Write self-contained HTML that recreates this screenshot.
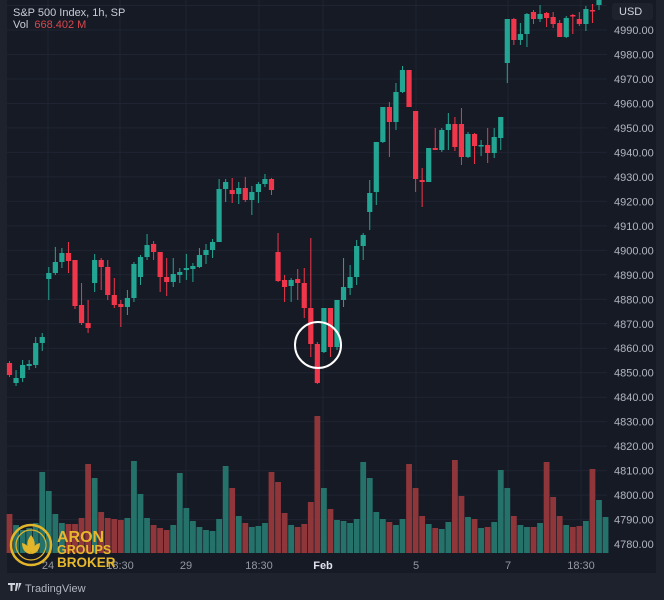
<!DOCTYPE html>
<html><head><meta charset="utf-8">
<style>
html,body{margin:0;padding:0;background:#1e222d;}
body{width:664px;height:600px;overflow:hidden;position:relative;font-family:"Liberation Sans",sans-serif;}
svg{position:absolute;left:0;top:0;}
</style></head>
<body>
<svg id="c" width="664" height="600" viewBox="0 0 664 600" xmlns="http://www.w3.org/2000/svg">
<rect x="0" y="0" width="664" height="600" fill="#1e222d"/>
<rect x="7" y="0" width="649" height="573" fill="#161a25"/>
<g id="grid" stroke="#1f2432" stroke-width="1"></g>
<g id="vol"></g>
<g id="cand"></g>
<g font-family="Liberation Sans, sans-serif" font-size="11" fill="#b2b5be" id="plabels"></g>
<rect x="612" y="3" width="41" height="17" rx="3" fill="#1e222d"/>
<text x="619" y="15" font-size="11" fill="#d1d4dc" font-family="Liberation Sans, sans-serif">USD</text>
<text x="13" y="16" font-size="11" fill="#c9ccd4" font-family="Liberation Sans, sans-serif">S&amp;P 500 Index, 1h, SP</text>
<text x="13" y="28" font-size="11" fill="#c9ccd4" font-family="Liberation Sans, sans-serif">Vol <tspan fill="#d9474d" dx="3">668.402 M</tspan></text>
<g font-family="Liberation Sans, sans-serif" font-size="11" fill="#9598a1" text-anchor="middle">
<text x="48" y="569">24</text>
<text x="120" y="569">18:30</text>
<text x="186" y="569">29</text>
<text x="259" y="569">18:30</text>
<text x="323" y="569" fill="#e0e3eb" font-weight="bold">Feb</text>
<text x="416" y="569">5</text>
<text x="508" y="569">7</text>
<text x="581" y="569">18:30</text>
</g>
<circle cx="318" cy="345" r="23" fill="none" stroke="#ffffff" stroke-width="2"/>
<circle cx="31" cy="545" r="20" fill="none" stroke="#e2b52a" stroke-width="2.5"/>
<circle cx="31" cy="545" r="15" fill="none" stroke="#e2b52a" stroke-width="1.2"/>
<path d="M31 535 C26 541 26 548 31 553 C36 548 36 541 31 535Z" fill="#e2b52a"/>
<path d="M22 543 C22 550 26 554 31 554 C30 548 27 544 22 543Z" fill="#e2b52a"/>
<path d="M40 543 C40 550 36 554 31 554 C32 548 35 544 40 543Z" fill="#e2b52a"/>
<g font-family="Liberation Sans, sans-serif" font-weight="bold" fill="#e8b82c">
<text x="57" y="542" font-size="16">ARON</text>
<text x="57" y="554" font-size="12.5">GROUPS</text>
<text x="57" y="567" font-size="13.5">BROKER</text>
</g>
<path d="M8 583h7v2h-2.5v6h-2v-6H8z M16 583h2.5l-2 8h-1.5z M19 583h2.5l-3.5 8z" fill="#d1d4dc"/>
<text x="25" y="592" font-size="11" fill="#b2b5be" font-family="Liberation Sans, sans-serif">TradingView</text>
</svg>
<script>
var NS="http://www.w3.org/2000/svg";
function el(p,t,a){var e=document.createElementNS(NS,t);for(var k in a)e.setAttribute(k,a[k]);p.appendChild(e);return e;}
var grid=document.getElementById('grid');
for(var i=0;i<=21;i++){var y=30+i*24.48;el(grid,'line',{x1:7,x2:607,y1:y,y2:y});}
el(grid,'line',{x1:7,x2:607,y1:5.5,y2:5.5});
[48,120,186,259,323,416,508,581].forEach(function(x){el(grid,'line',{x1:x,x2:x,y1:0,y2:553});});
var pl=document.getElementById('plabels');
for(var i=0;i<=21;i++){var t=el(pl,'text',{x:614,y:30+i*24.48+4});t.textContent=(4990-i*10)+'.00';}
var C=[
'r 363 375 361 377','g 378 383 370 386','g 365 378 360 382','g 364 366 360 370','g 343 365 337 368','g 337 343 333 351',
'g 273 279 267 300','g 262 273 247 275','g 253 262 248 268','r 253 261 242 273','r 260 306 260 309','r 305 323 283 325',
'r 323 328 300 333','g 260 283 254 292','r 260 267 258 290','r 267 295 260 300','r 295 305 278 308','r 304 307 300 327',
'g 298 307 290 315','g 264 298 262 302','g 257 277 255 285','g 245 257 234 260','r 244 252 241 260','r 252 277 252 292',
'r 277 282 258 296','g 274 282 258 287','g 272 275 268 283','g 268 270 254 280','g 266 269 263 282','g 255 267 248 268',
'g 250 255 244 264','g 242 250 239 258','g 189 242 179 242','g 182 189 179 202','r 190 194 178 203','g 188 194 182 204',
'r 188 200 177 202','g 192 200 186 215','g 184 192 182 203','g 179 184 174 187','r 179 190 178 195','r 252 281 233 282',
'r 280 287 275 302','g 280 286 278 302','r 279 283 269 300','r 283 308 268 318','r 308 344 238 357','r 344 383 342 384',
'g 308 352 308 353','r 308 347 308 357','g 300 347 300 350','g 287 300 258 307','g 277 288 265 295','g 246 277 240 285',
'g 235 246 233 260','g 193 212 180 230','g 142 192 142 205','g 107 142 107 143','r 107 122 102 157','g 92 122 83 130',
'g 70 92 66 93','r 70 107 70 107','r 111 179 111 192','r 180 182 168 207','g 148 182 148 182','r 148 150 128 150',
'g 130 150 128 152','g 124 130 113 150','r 124 147 117 151','r 124 157 108 165','g 134 157 132 158','r 134 146 133 164',
'g 145 146 140 156','r 145 153 128 163','g 137 153 128 158','g 117 138 117 150','g 19 63 19 83','r 19 40 18 45',
'g 34 40 23 45','g 14 34 13 47','r 12 19 10 24','g 14 19 5 22','r 13 18 12 27','r 17 24 12 28','r 23 37 20 37',
'g 18 37 16 38','r 15 16 14 34','r 19 24 12 26','g 9 24 6 31','r 10 11 4 23','g 0 5 -3 10'];
var V='514r 525g 530g 528g 523g 472g 491g 514g 523g 524r 524r 518r 464r 478g 512r 518r 519r 520r 518g 461g 494g 518g 525r 528r 530r 525g 473g 508g 521g 527g 530g 531g 519g 466g 488r 516g 523r 527g 526g 523g 472r 482r 513r 525g 527r 524r 502r 416r 488g 509r 520g 521g 523g 519g 462g 478g 512g 519g 522r 525g 519g 464r 488r 516r 524g 528r 529g 522g 460r 496r 517g 519r 528g 527r 522g 470g 488g 516r 525g 527g 527r 523g 462r 497r 516r 525g 527r 526r 521g 469r 500g 517g'.split(' ');
var vg=document.getElementById('vol'),cg=document.getElementById('cand');
function X(k){return 9.5+6.55*k;}
V.forEach(function(s,k){var top=parseFloat(s),c=s.slice(-1);var x=X(k);
 el(vg,'rect',{x:(x-2.9).toFixed(2),y:top,width:5.8,height:553-top,fill:c=='g'?'#25726a':'#8e3639'});});
C.forEach(function(s,k){var p=s.split(' ');var c=p[0]=='g'?'#22a592':'#f0364a';var x=X(k);
 var bt=+p[1],bb=+p[2],wt=+p[3],wb=+p[4];if(bb-bt<1.5)bb=bt+1.5;
 el(cg,'rect',{x:(x-0.5).toFixed(2),y:wt,width:1,height:Math.max(wb-wt,1),fill:c});
 el(cg,'rect',{x:(x-2.6).toFixed(2),y:bt,width:5.2,height:bb-bt,fill:c});});
</script>
</body></html>
